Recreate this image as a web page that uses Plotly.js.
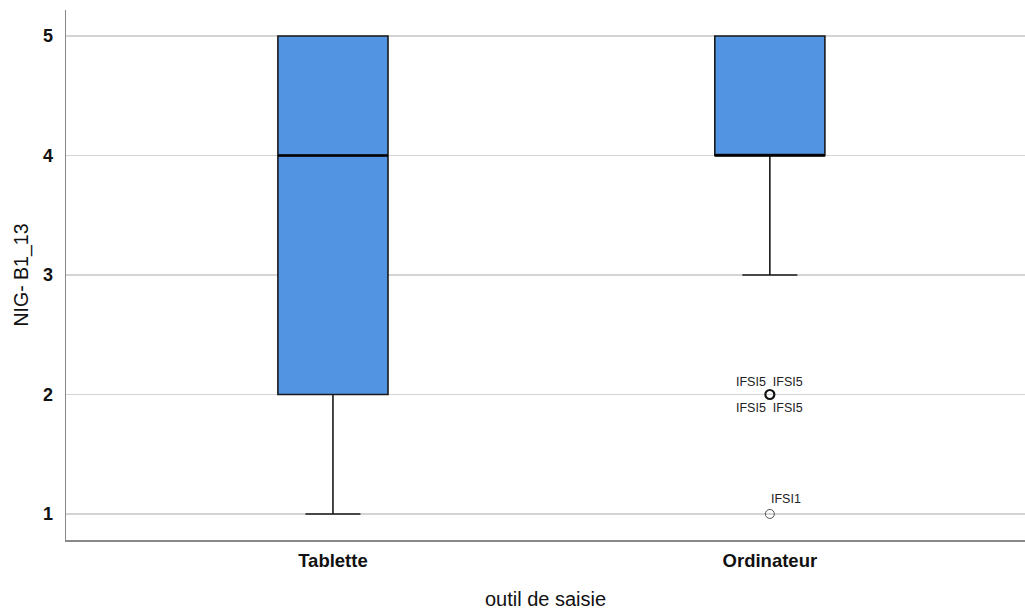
<!DOCTYPE html>
<html>
<head>
<meta charset="utf-8">
<script src="https://cdn.plot.ly/plotly-3.0.1.min.js"></script>
<style>html,body{margin:0;padding:0;background:#fff;}#chart{width:1025px;height:610px;}</style>
</head>
<body>
<div id="chart"></div>
<script>
// Categories and box statistics
var categories = ["Tablette", "Ordinateur"];
var positions = [0, 1];
var lowerFence = [1, 3];
var q1 = [2, 4];
var median = [4, 4];
var q3 = [5, 5];
var upperFence = [5, 5];

// Outliers (Ordinateur)
var outlierX = [1, 1];
var outlierY = [2, 1];
var outlierLabelsAbove = ["IFSI5  IFSI5", "IFSI1"];
var outlierLabelsBelow = ["IFSI5  IFSI5", ""];
var outlierLineWidth = [2.2, 1];
var outlierLineColor = ["#111", "#555"];

var boxWidth = 0.252;
var fillColor = "#5294E2";

var traces = [];
traces.push({
  type: "box",
  x: positions,
  q1: q1, median: median, q3: q3,
  lowerfence: lowerFence, upperfence: upperFence,
  width: boxWidth,
  whiskerwidth: 0.5,
  fillcolor: fillColor,
  line: {color: "#1a1a1a", width: 1.6},
  boxpoints: false,
  hoverinfo: "skip",
  showlegend: false
});
// Thicker median lines
for (var i = 0; i < positions.length; i++) {
  traces.push({
    type: "scatter", mode: "lines",
    x: [positions[i] - boxWidth / 2, positions[i] + boxWidth / 2],
    y: [median[i], median[i]],
    line: {color: "#000", width: 2.4},
    hoverinfo: "skip", showlegend: false
  });
}
traces.push({
  type: "scatter", mode: "markers",
  x: outlierX, y: outlierY,
  marker: {symbol: "circle-open", size: 9, color: outlierLineColor,
           line: {width: outlierLineWidth, color: outlierLineColor}},
  hoverinfo: "skip", showlegend: false
});

var labelFont = {family: "Liberation Sans, Arial, sans-serif", size: 12.5, color: "#222"};
var annotations = [];
for (var j = 0; j < outlierY.length; j++) {
  var single = !outlierLabelsBelow[j];
  annotations.push({
    x: outlierX[j], y: outlierY[j], xref: "x", yref: "y",
    text: outlierLabelsAbove[j], showarrow: false,
    yshift: single ? 15 : 12.5, xshift: single ? -1 : 0,
    xanchor: single ? "left" : "center",
    font: labelFont
  });
  if (!single) annotations.push({
    x: outlierX[j], y: outlierY[j], xref: "x", yref: "y",
    text: outlierLabelsBelow[j], showarrow: false, yshift: -14,
    font: labelFont
  });
}

var layout = {
  width: 1025, height: 610,
  margin: {l: 66, r: 0, t: 10, b: 70},
  paper_bgcolor: "#fff", plot_bgcolor: "#fff",
  font: {family: "Liberation Sans, Arial, sans-serif", color: "#111"},
  xaxis: {
    range: [-0.611, 1.584],
    tickmode: "array", tickvals: positions, ticktext: categories,
    showgrid: false, zeroline: false,
    showline: true, linecolor: "#888", linewidth: 1.5,
    ticks: "", ticklen: 0, ticklabelstandoff: 3,
    tickfont: {size: 18.5, weight: "bold", color: "#111"},
    title: {text: "outil de saisie", font: {size: 20, color: "#111"}, standoff: 23}
  },
  yaxis: {
    range: [0.782, 5.218],
    tickvals: [1, 2, 3, 4, 5],
    showgrid: true, gridcolor: "#d4d4d4", gridwidth: 1.5,
    zeroline: false,
    showline: true, linecolor: "#888", linewidth: 1.5,
    ticks: "", ticklabelstandoff: 8,
    tickfont: {size: 18, weight: "bold", color: "#111"},
    title: {text: "NIG- B1_13", font: {size: 19.5, color: "#111"}, standoff: 9}
  },
  annotations: annotations
};

Plotly.newPlot("chart", traces, layout, {displayModeBar: false, staticPlot: true});
</script>
</body>
</html>
